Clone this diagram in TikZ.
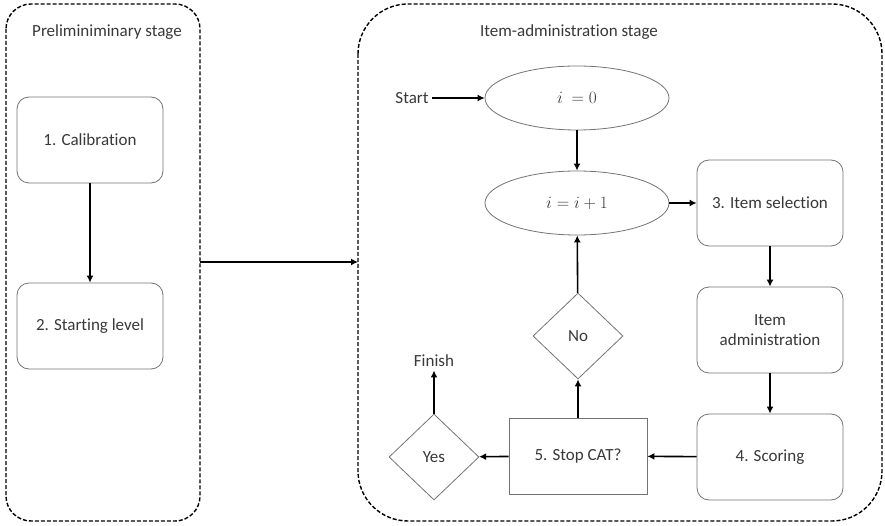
\documentclass[tikz,border=0pt]{standalone}
\usepackage{fontspec}
\setmainfont[Ligatures=NoCommon]{Carlito}
\usetikzlibrary{shapes.geometric,arrows.meta}
\begin{document}
\begin{tikzpicture}[x=1pt,y=-1pt,
  every node/.style={font=\fontsize{17}{20}\selectfont, text=black!78},
  rbox/.style={draw=black!55, line width=0.8pt, rounded corners=12pt, minimum width=146pt, minimum height=86pt, align=center},
  sbox/.style={draw=black!55, line width=0.8pt, minimum width=138pt, minimum height=76pt},
  ell/.style={draw=black!55, line width=0.8pt, ellipse, minimum width=184pt, minimum height=64pt},
  dia/.style={draw=black!55, line width=0.8pt, diamond, minimum width=90pt, minimum height=86pt, inner sep=0pt},
  stage/.style={draw=black, line width=1.4pt, dash pattern=on 4pt off 2pt},
  arr/.style={draw=black, line width=1.6pt, -{Latex[length=7pt,width=7pt]}}
]
\useasboundingbox (0,0) rectangle (885,526);
% stage frames
\draw[stage, rounded corners=25pt] (6,4) rectangle (200,521);
\draw[stage, rounded corners=50pt] (358,4) rectangle (882,521);
\node (t1) at (107,32) {Preliminiminary stage};
\node (t2) at (569,32) {Item-administration stage};
% preliminary
\node[rbox] (cal) at (90,140) {1. Calibration};
\node[rbox] (sl) at (90,326) {2. Starting level};
\draw[arr] (cal) -- (sl);
% link between stages
\coordinate (le) at (200,262);
\coordinate (re) at (358,262);
\draw[arr] (le) -- (re);
% item administration
\node (start) at (412,98) {Start};
\node[ell] (i0) at (577,98) {$i\ =0$};
\node[ell] (i1) at (577,203) {$i=i+1$};
\node[rbox] (sel) at (770,203) {3. Item selection};
\node[rbox] (adm) at (770,330) {Item\\administration};
\node[rbox] (sco) at (770,457) {4. Scoring};
\node[sbox] (stop) at (578,456) {5. Stop CAT?};
\node[dia] (no) at (578,336) {No};
\node[dia] (yes) at (434,457) {Yes};
\node (fin) at (434,361) {Finish};
\draw[arr] (start) -- (i0);
\draw[arr] (i0) -- (i1);
\draw[arr] (i1) -- (sel);
\draw[arr] (sel) -- (adm);
\draw[arr] (adm) -- (sco);
\draw[arr] (sco) -- (stop);
\draw[arr] (stop) -- (no);
\draw[arr] (no) -- (i1);
\draw[arr] (stop) -- (yes);
\draw[arr] (yes) -- (fin);
\end{tikzpicture}
\end{document}
